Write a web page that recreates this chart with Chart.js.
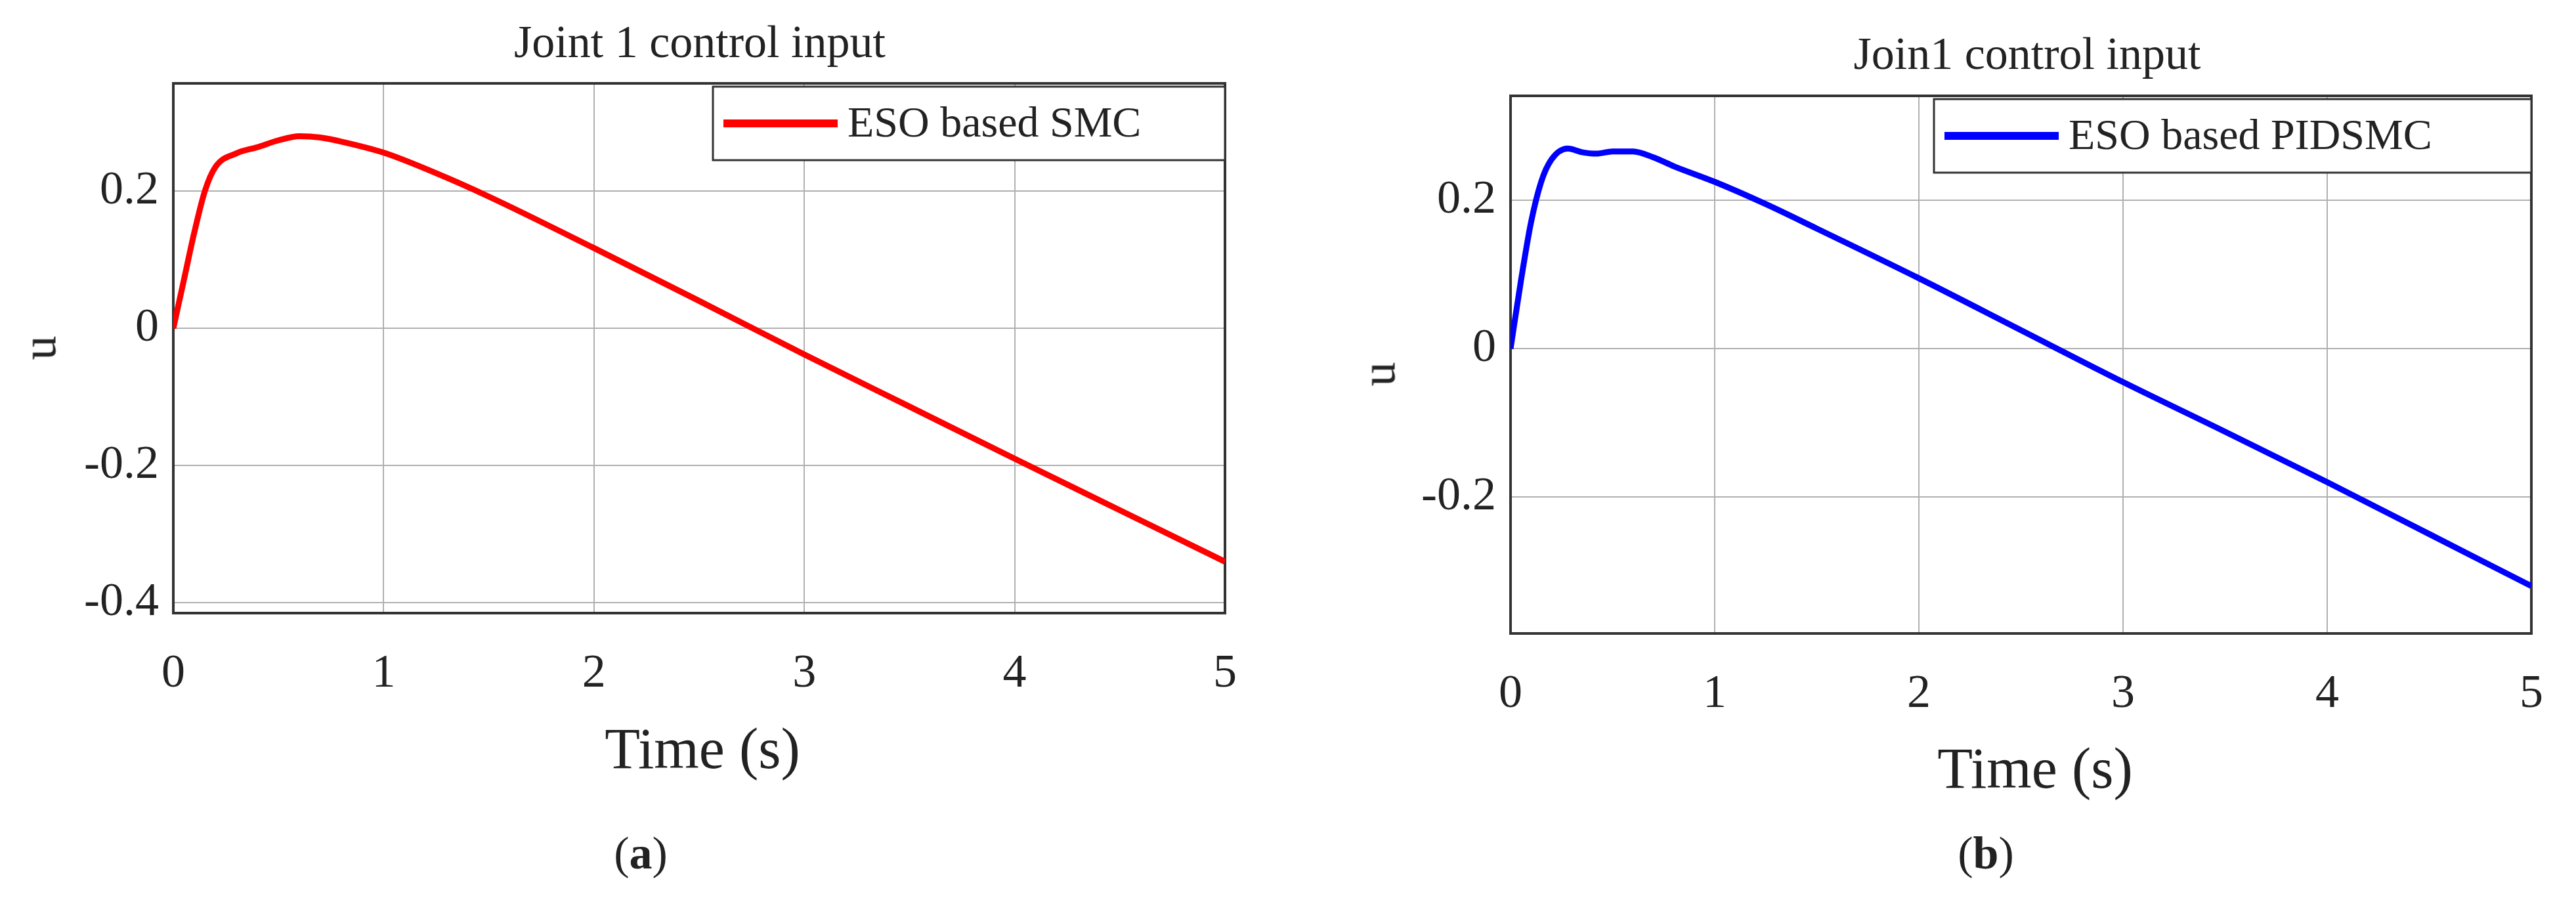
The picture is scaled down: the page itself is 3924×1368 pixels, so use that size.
<!DOCTYPE html>
<html>
<head>
<meta charset="utf-8">
<script src="https://cdn.jsdelivr.net/npm/chart.js@4.4.0/dist/chart.umd.min.js"></script>
<style>
  html, body { margin: 0; padding: 0; background: #fff; }
  body { width: 3924px; height: 1368px; position: relative; overflow: hidden; font-family: 'Liberation Serif', serif; }
  .panel { position: absolute; top: 0; height: 1368px; }
  .txt { position: absolute; transform: translate(-50%, -50%); white-space: nowrap; color: #222; }
</style>
</head>
<body>
<div class="panel" style="left:0;width:1962px"><canvas id="chartA"></canvas></div>
<div class="panel" style="left:1962px;width:1962px"><canvas id="chartB"></canvas></div>

<div class="txt" style="left:1066px;top:64px;font-size:70px">Joint 1 control input</div>
<div class="txt" style="left:3088px;top:82px;font-size:70px">Join1 control input</div>
<div class="txt" style="left:60px;top:530px;font-size:74px;transform:translate(-50%,-50%) rotate(-90deg)">u</div>
<div class="txt" style="left:2100px;top:570px;font-size:74px;transform:translate(-50%,-50%) rotate(-90deg)">u</div>
<div class="txt" style="left:1070px;top:1140px;font-size:88px">Time (s)</div>
<div class="txt" style="left:3100px;top:1170px;font-size:88px">Time (s)</div>
<div class="txt" style="left:976px;top:1300px;font-size:70px">(<b>a</b>)</div>
<div class="txt" style="left:3025px;top:1300px;font-size:70px">(<b>b</b>)</div>

<script>
// panel (a): ESO based SMC
const timeA = [0, 0.05, 0.1, 0.15, 0.2, 0.3, 0.4, 0.5, 0.6, 0.7, 0.8, 1.0, 1.25, 1.5, 2.0, 2.5, 3.0, 3.5, 4.0, 4.5, 5.0];
const uA = [0, 0.07, 0.14, 0.2, 0.235, 0.255, 0.264, 0.274, 0.28, 0.278, 0.272, 0.256, 0.226, 0.192, 0.117, 0.04, -0.038, -0.114, -0.19, -0.265, -0.34];
const yTicksA = [-0.4, -0.2, 0, 0.2];

// panel (b): ESO based PIDSMC
const timeB = [0, 0.05, 0.1, 0.15, 0.2, 0.28, 0.35, 0.42, 0.5, 0.6, 0.7, 0.8, 1.0, 1.25, 1.5, 2.0, 2.5, 3.0, 3.5, 4.0, 4.5, 5.0];
const uB = [0, 0.09, 0.17, 0.225, 0.255, 0.27, 0.265, 0.263, 0.266, 0.266, 0.258, 0.246, 0.225, 0.195, 0.162, 0.095, 0.025, -0.045, -0.112, -0.18, -0.25, -0.32];
const yTicksB = [-0.2, 0, 0.2];

const xTicks = [0, 1, 2, 3, 4, 5];

const FONT = "'Liberation Serif', serif";

const frameLegendPlugin = {
  id: 'frameLegend',
  beforeDatasetsDraw(chart) {
    const { ctx, chartArea: a } = chart;
    ctx.save();
    ctx.strokeStyle = '#333';
    ctx.lineWidth = 4;
    ctx.strokeRect(a.left, a.top, a.right - a.left, a.bottom - a.top);
    ctx.restore();
  },
  afterDatasetsDraw(chart, args, opts) {
    const { ctx, chartArea: a } = chart;
    const ds = chart.data.datasets[0];
    const w = opts.width;
    const h = 112;
    const x = a.right - w;
    const y = a.top + 5;
    ctx.save();
    ctx.fillStyle = '#fff';
    ctx.fillRect(x, y, w, h);
    ctx.strokeStyle = '#333';
    ctx.lineWidth = 3;
    ctx.strokeRect(x, y, w, h);
    ctx.strokeStyle = ds.borderColor;
    ctx.lineWidth = 12;
    ctx.beginPath();
    ctx.moveTo(x + 16, y + h / 2);
    ctx.lineTo(x + 190, y + h / 2);
    ctx.stroke();
    ctx.fillStyle = '#222';
    ctx.font = `66px ${FONT}`;
    ctx.textBaseline = 'middle';
    ctx.fillText(ds.label, x + 205, y + h / 2 + 3);
    ctx.restore();
  }
};

const makeChart = (id, label, color, times, values, yMin, yMax, yTicks, pad, legendWidth) => {
  const fix = (list) => (scale) => { scale.ticks = list.map((v) => ({ value: v })); };
  return new Chart(document.getElementById(id), {
    type: 'line',
    data: {
      datasets: [{
        label,
        data: times.map((t, i) => ({ x: t, y: values[i] })),
        borderColor: color,
        borderWidth: 9,
        pointRadius: 0,
        cubicInterpolationMode: 'monotone',
        fill: false
      }]
    },
    options: {
      responsive: true,
      maintainAspectRatio: false,
      animation: false,
      layout: { padding: { top: pad.top, right: pad.right, left: 0, bottom: 0 } },
      plugins: {
        legend: { display: false },
        tooltip: { enabled: false },
        frameLegend: { width: legendWidth }
      },
      scales: {
        x: {
          type: 'linear',
          min: 0,
          max: 5,
          afterBuildTicks: fix(xTicks),
          afterFit: (s) => { s.height = pad.bottom; },
          grid: { color: '#b0b0b0', lineWidth: 2, drawTicks: false },
          border: { display: false },
          ticks: { color: '#222', font: { family: FONT, size: 72 }, padding: 50, maxRotation: 0 }
        },
        y: {
          min: yMin,
          max: yMax,
          afterBuildTicks: fix(yTicks),
          afterFit: (s) => { s.width = pad.left; },
          grid: { color: '#b0b0b0', lineWidth: 2, drawTicks: false },
          border: { display: false },
          ticks: { color: '#222', font: { family: FONT, size: 72 }, padding: 22, callback: (v) => String(v) }
        }
      }
    },
    plugins: [frameLegendPlugin]
  });
};

makeChart('chartA', 'ESO based SMC', '#ff0000', timeA, uA, -0.415, 0.357, yTicksA,
  { top: 127, right: 96, left: 264, bottom: 434 }, 780);
makeChart('chartB', 'ESO based PIDSMC', '#0000ff', timeB, uB, -0.384, 0.341, yTicksB,
  { top: 146, right: 26, left: 339, bottom: 403 }, 910);
</script>
</body>
</html>
